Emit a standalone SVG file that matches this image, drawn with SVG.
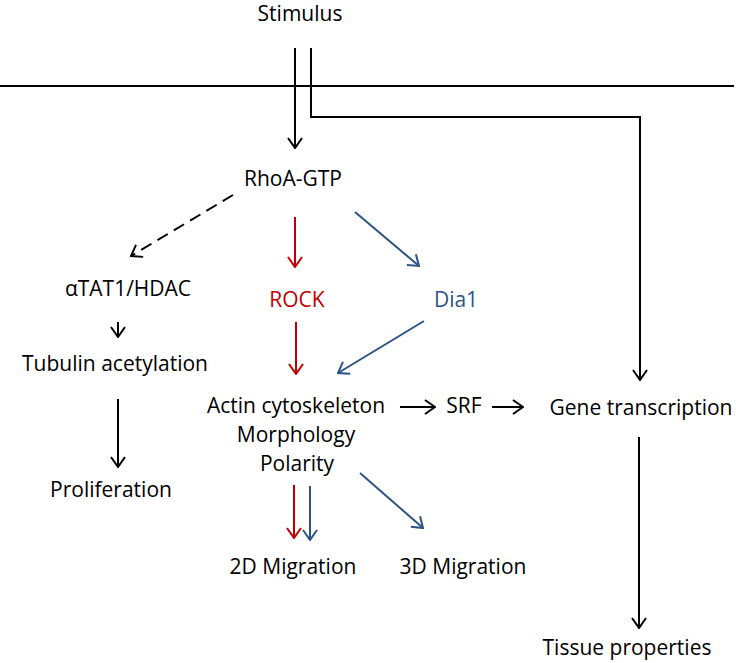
<svg xmlns="http://www.w3.org/2000/svg" width="736" height="663" viewBox="0 0 736 663">
<defs>
<style>
text{font-family:"Open Sans","Noto Sans","Liberation Sans",sans-serif;font-size:21px;text-anchor:middle;fill:#000}
.red{fill:#C00000}
.blue{fill:#2C5384}
.ln{fill:none;stroke-width:2}
.k{stroke:#000}
.r{stroke:#C00000}
.b{stroke:#2C5384}
</style>
<marker id="ak" viewBox="0 0 12 16" refX="11" refY="8" markerWidth="12" markerHeight="16" markerUnits="userSpaceOnUse" orient="auto"><path d="M1,1 L11,8 L1,15" fill="none" stroke="#000" stroke-width="2"/></marker>
<marker id="ar" viewBox="0 0 12 16" refX="11" refY="8" markerWidth="12" markerHeight="16" markerUnits="userSpaceOnUse" orient="auto"><path d="M1,1 L11,8 L1,15" fill="none" stroke="#C00000" stroke-width="2"/></marker>
<marker id="ab" viewBox="0 0 12 16" refX="11" refY="8" markerWidth="12" markerHeight="16" markerUnits="userSpaceOnUse" orient="auto"><path d="M1,1 L11,8 L1,15" fill="none" stroke="#2C5384" stroke-width="2"/></marker>
</defs>
<g id="membrane"><line x1="0" y1="86" x2="734" y2="86" class="ln k"/></g>
<g id="stimulus"><text x="300" y="21">Stimulus</text></g>
<g id="rhoa"><text x="293" y="186">RhoA-GTP</text></g>
<g id="atat1"><text x="128" y="296">αTAT1/HDAC</text></g>
<g id="tubulin"><text x="115" y="371">Tubulin acetylation</text></g>
<g id="proliferation"><text x="111" y="497">Proliferation</text></g>
<g id="rock"><text x="297" y="307" class="red">ROCK</text></g>
<g id="dia1"><text x="456" y="307" class="blue">Dia1</text></g>
<g id="actin"><text x="296" y="413">Actin cytoskeleton</text><text x="296" y="442">Morphology</text><text x="297" y="471">Polarity</text></g>
<g id="srf"><text x="464" y="413">SRF</text></g>
<g id="gene"><text x="641" y="415">Gene transcription</text></g>
<g id="m2d"><text x="293" y="574">2D Migration</text></g>
<g id="m3d"><text x="463" y="574">3D Migration</text></g>
<g id="tissue"><text x="627" y="655">Tissue properties</text></g>
<g id="connectors">
<line x1="295" y1="48" x2="295" y2="148" class="ln k" marker-end="url(#ak)"/>
<polyline points="311,48 311,117 640,117 640,380" class="ln k" marker-end="url(#ak)"/>
<line x1="233" y1="195" x2="131" y2="256" class="ln k" stroke-dasharray="12,7" marker-end="url(#ak)"/>
<line x1="118" y1="322" x2="118" y2="337" class="ln k" marker-end="url(#ak)"/>
<line x1="118" y1="399" x2="118" y2="467" class="ln k" marker-end="url(#ak)"/>
<line x1="295" y1="217" x2="295" y2="267" class="ln r" marker-end="url(#ar)"/>
<line x1="355" y1="212" x2="419" y2="266" class="ln b" marker-end="url(#ab)"/>
<line x1="296" y1="322" x2="296" y2="374" class="ln r" marker-end="url(#ar)"/>
<line x1="424" y1="321" x2="338" y2="373" class="ln b" marker-end="url(#ab)"/>
<line x1="400" y1="407" x2="435" y2="407" class="ln k" marker-end="url(#ak)"/>
<line x1="492" y1="407" x2="523" y2="407" class="ln k" marker-end="url(#ak)"/>
<line x1="294" y1="485" x2="294" y2="538" class="ln r" marker-end="url(#ar)"/>
<line x1="310" y1="486" x2="310" y2="540" class="ln b" marker-end="url(#ab)"/>
<line x1="360" y1="473" x2="423" y2="528" class="ln b" marker-end="url(#ab)"/>
<line x1="639" y1="437" x2="639" y2="628" class="ln k" marker-end="url(#ak)"/>
</g>
</svg>
